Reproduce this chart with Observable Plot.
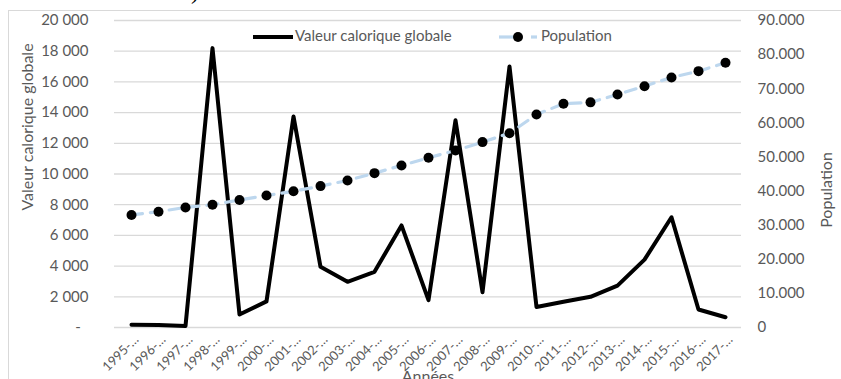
<!DOCTYPE html>
<html><head><meta charset="utf-8">
<script src="https://cdn.jsdelivr.net/npm/d3@7"></script>
<script src="https://cdn.jsdelivr.net/npm/@observablehq/plot@0.6"></script>
<style>
body{margin:0;background:#fff;}
#wrap{position:relative;width:841px;height:379px;overflow:hidden;font-family:Lato,sans-serif;color:#595959;}
#toptext{position:absolute;right:636px;top:-22px;font-family:"Liberation Serif","Times New Roman",serif;font-size:24px;color:#000;white-space:nowrap;}
#frame{position:absolute;left:8px;top:10px;width:900px;height:400px;border:1px solid #d9d9d9;box-sizing:border-box;}
#chart{position:absolute;left:0;top:0;}
.leg{position:absolute;top:25px;font-size:15px;white-space:nowrap;line-height:20px;}
.leg svg{vertical-align:middle;}
</style></head><body>
<div id="wrap">
  <div id="toptext">calories et valeurs).</div>
  <div id="frame"></div>
  <div id="chart"></div>
  <div class="leg" style="left:253px"><svg width="40" height="10"><line x1="0" x2="40" y1="5" y2="5" stroke="#000" stroke-width="4"/></svg><span style="margin-left:2px">Valeur calorique globale</span></div>
  <div class="leg" style="left:499px"><svg width="40" height="12"><line x1="0" x2="14" y1="6" y2="6" stroke="#bdd7ee" stroke-width="3.2"/><circle cx="19" cy="6" r="5" fill="#000"/><line x1="32" x2="38" y1="6" y2="6" stroke="#bdd7ee" stroke-width="3.2"/></svg><span style="margin-left:2px">Population</span></div>
</div>
<script>
const years = [1995,1996,1997,1998,1999,2000,2001,2002,2003,2004,2005,2006,2007,2008,2009,2010,2011,2012,2013,2014,2015,2016,2017];
const tickLabels = years.map(y => y + "-…");
const calories = [180,160,100,18200,850,1700,13750,3950,2975,3626,6650,1780,13500,2300,17000,1330,1680,2000,2730,4420,7180,1170,670];
const population = [33000,33950,35200,36000,37400,38700,39950,41450,43100,45250,47500,49750,51900,54350,56950,62450,65600,66000,68300,70750,73300,75150,77600];
const leftTicks = d3.range(0, 20001, 2000);
const rightTicks = d3.range(0, 90001, 10000);
const leftMax = 20000, rightMax = 90000;
const k = leftMax / rightMax;

const rows = years.map((y, i) => ({label: tickLabels[i], cal: calories[i], pop: population[i] * k}));
const fmtLeft = d => d === 0 ? "-\u00a0\u00a0" : d3.format(",")(d).replace(/,/g, " ");
const fmtRight = d => d === 0 ? "0" : d3.format(",")(d).replace(/,/g, ".");

const chart = Plot.plot({
  width: 841, height: 379,
  marginLeft: 114, marginRight: 100, marginTop: 20, marginBottom: 52,
  style: {fontFamily: "Lato, sans-serif", color: "#595959", background: "transparent"},
  x: {type: "point", domain: tickLabels, padding: 0.5},
  y: {domain: [0, leftMax]},
  marks: [
    Plot.gridY(leftTicks, {stroke: "#d9d9d9", strokeOpacity: 1, strokeWidth: 1.3}),
    Plot.axisY(leftTicks, {anchor: "left", tickSize: 0, tickPadding: 26, tickFormat: fmtLeft, fontSize: 15, label: null}),
    Plot.axisY(rightTicks.map(v => v * k), {anchor: "right", tickSize: 0, tickPadding: 16, tickFormat: d => fmtRight(Math.round(d / k)), fontSize: 15, label: null}),
    Plot.axisX({anchor: "bottom", tickSize: 0, tickPadding: 10, tickRotate: -45, fontSize: 13, label: null, dx: 5}),
    Plot.line(rows, {x: "label", y: "cal", stroke: "#000", strokeWidth: 4}),
    Plot.line(rows, {x: "label", y: "pop", stroke: "#bdd7ee", strokeWidth: 3.2, strokeDasharray: "11,8"}),
    Plot.dot(rows, {x: "label", y: "pop", r: 5, fill: "#000"})
  ]
});
document.getElementById("chart").appendChild(chart);

const svg = d3.select(chart);
const title = (txt, x, y, rot) => svg.append("text")
  .attr("transform", `translate(${x},${y})` + (rot ? " rotate(-90)" : ""))
  .attr("text-anchor", "middle").attr("dominant-baseline", "central")
  .attr("fill", "#595959").attr("font-size", 16).attr("font-family", "Lato, sans-serif")
  .text(txt);
title("Valeur calorique globale", 26, 127, true);
title("Population", 825, 190, true);
title("Années", 428, 375, false);
</script>
</body></html>
